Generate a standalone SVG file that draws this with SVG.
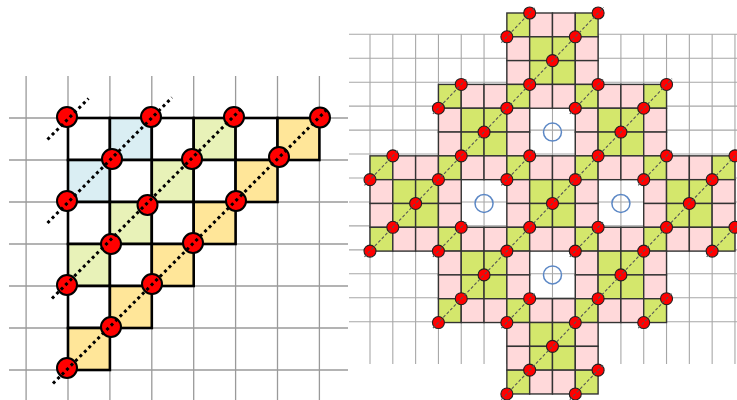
<svg xmlns="http://www.w3.org/2000/svg" width="737" height="400" viewBox="0 0 737 400">
<style>
.gl{stroke:#9a9a9a;stroke-width:1.3;fill:none}
.gr{stroke:#a8a8a8;stroke-width:1.1;fill:none}
.lc{stroke:#000;stroke-width:2.6}
.w{fill:#fff}.b{fill:#DAEEF3}.lg{fill:#E8F2B8}.y{fill:#FFE699}
.rc rect{stroke:#333;stroke-width:1.4}
.g{fill:#D4E76C}.p{fill:#FFD9DA}
.red1{fill:#FF0000;stroke:#000;stroke-width:2}
.red2{fill:#FF0000;stroke:#222;stroke-width:1.1}
.blue{fill:none;stroke:#5B87C5;stroke-width:1.5}
.dot{stroke:#000;stroke-width:3;stroke-dasharray:3 3.3;fill:none}
.dash{stroke:#555;stroke-width:1.1;stroke-dasharray:3 2;fill:none}
</style>
<rect width="737" height="400" fill="#fff"/>
<g id="left-panel">
<g id="left-grid" class="gl">
<path d="M26.1 76V400M68 76V400M109.9 76V400M151.8 76V400M193.7 76V400M235.6 76V400M277.5 76V400M319.4 76V400"/>
<path d="M9 118H348M9 160H348M9 202H348M9 244H348M9 286H348M9 328H348M9 370H348"/>
</g>
<g id="left-cells" class="lc">
<rect class="w" x="68" y="118" width="41.9" height="42"/>
<rect class="b" x="109.9" y="118" width="41.9" height="42"/>
<rect class="w" x="151.8" y="118" width="41.9" height="42"/>
<rect class="lg" x="193.7" y="118" width="41.9" height="42"/>
<rect class="w" x="235.6" y="118" width="41.9" height="42"/>
<rect class="y" x="277.5" y="118" width="41.9" height="42"/>
<rect class="b" x="68" y="160" width="41.9" height="42"/>
<rect class="w" x="109.9" y="160" width="41.9" height="42"/>
<rect class="lg" x="151.8" y="160" width="41.9" height="42"/>
<rect class="w" x="193.7" y="160" width="41.9" height="42"/>
<rect class="y" x="235.6" y="160" width="41.9" height="42"/>
<rect class="w" x="68" y="202" width="41.9" height="42"/>
<rect class="lg" x="109.9" y="202" width="41.9" height="42"/>
<rect class="w" x="151.8" y="202" width="41.9" height="42"/>
<rect class="y" x="193.7" y="202" width="41.9" height="42"/>
<rect class="lg" x="68" y="244" width="41.9" height="42"/>
<rect class="w" x="109.9" y="244" width="41.9" height="42"/>
<rect class="y" x="151.8" y="244" width="41.9" height="42"/>
<rect class="w" x="68" y="286" width="41.9" height="42"/>
<rect class="y" x="109.9" y="286" width="41.9" height="42"/>
<rect class="y" x="68" y="328" width="41.9" height="42"/>
</g>
<g id="left-dots" class="red1">
<circle cx="67" cy="117" r="10"/><circle cx="151" cy="117" r="10"/><circle cx="234" cy="117" r="10"/><circle cx="320" cy="117.5" r="10"/>
<circle cx="112" cy="159" r="10"/><circle cx="192" cy="159" r="10"/><circle cx="279" cy="157" r="10"/>
<circle cx="67" cy="201" r="10"/><circle cx="147.5" cy="205" r="10"/><circle cx="236" cy="201" r="10"/>
<circle cx="111" cy="244" r="10"/><circle cx="193" cy="243" r="10"/>
<circle cx="67" cy="285" r="10"/><circle cx="152" cy="284" r="10"/>
<circle cx="111" cy="327" r="10"/><circle cx="67" cy="368" r="10"/>
</g>
<g id="left-lines" class="dot">
<path d="M47.5 139.5L88.5 98.5"/>
<path d="M47.5 223L172 97.5"/>
<path d="M52 298.5L242 108"/>
<path d="M53 383.5L328 108.5"/>
</g>
</g>
<g id="right-panel">
<g id="right-grid" class="gr">
<path d="M370 34.3V364M392.81 34.3V364M415.62 34.3V364M438.43 34.3V364M461.24 34.3V364M484.05 34.3V364M506.86 34.3V364M529.67 34.3V364M552.48 34.3V364M575.29 34.3V364M598.1 34.3V364M620.91 34.3V364M643.72 34.3V364M666.53 34.3V364M689.34 34.3V364M712.15 34.3V364M734.96 34.3V364"/>
<path d="M349 34.3H737M349 58.25H737M349 82.2H737M349 106.15H737M349 130.1H737M349 154.05H737M349 178H737M349 201.95H737M349 225.9H737M349 249.85H737M349 273.8H737M349 297.75H737M349 321.7H737"/>
</g>
<g id="right-cells" class="rc">
<rect class="g" x="506.86" y="13" width="22.81" height="23.81"/><rect class="p" x="529.67" y="13" width="22.81" height="23.81"/><rect class="p" x="552.48" y="13" width="22.81" height="23.81"/><rect class="g" x="575.29" y="13" width="22.81" height="23.81"/>
<rect class="p" x="506.86" y="36.81" width="22.81" height="23.81"/><rect class="g" x="529.67" y="36.81" width="22.81" height="23.81"/><rect class="g" x="552.48" y="36.81" width="22.81" height="23.81"/><rect class="p" x="575.29" y="36.81" width="22.81" height="23.81"/>
<rect class="p" x="506.86" y="60.62" width="22.81" height="23.81"/><rect class="g" x="529.67" y="60.62" width="22.81" height="23.81"/><rect class="g" x="552.48" y="60.62" width="22.81" height="23.81"/><rect class="p" x="575.29" y="60.62" width="22.81" height="23.81"/>
<rect class="g" x="438.43" y="84.43" width="22.81" height="23.81"/><rect class="p" x="461.24" y="84.43" width="22.81" height="23.81"/><rect class="p" x="484.05" y="84.43" width="22.81" height="23.81"/><rect class="g" x="506.86" y="84.43" width="22.81" height="23.81"/><rect class="p" x="529.67" y="84.43" width="22.81" height="23.81"/><rect class="p" x="552.48" y="84.43" width="22.81" height="23.81"/><rect class="g" x="575.29" y="84.43" width="22.81" height="23.81"/><rect class="p" x="598.1" y="84.43" width="22.81" height="23.81"/><rect class="p" x="620.91" y="84.43" width="22.81" height="23.81"/><rect class="g" x="643.72" y="84.43" width="22.81" height="23.81"/>
<rect class="p" x="438.43" y="108.24" width="22.81" height="23.81"/><rect class="g" x="461.24" y="108.24" width="22.81" height="23.81"/><rect class="g" x="484.05" y="108.24" width="22.81" height="23.81"/><rect class="p" x="506.86" y="108.24" width="22.81" height="23.81"/><rect class="p" x="575.29" y="108.24" width="22.81" height="23.81"/><rect class="g" x="598.1" y="108.24" width="22.81" height="23.81"/><rect class="g" x="620.91" y="108.24" width="22.81" height="23.81"/><rect class="p" x="643.72" y="108.24" width="22.81" height="23.81"/>
<rect class="p" x="438.43" y="132.05" width="22.81" height="23.81"/><rect class="g" x="461.24" y="132.05" width="22.81" height="23.81"/><rect class="g" x="484.05" y="132.05" width="22.81" height="23.81"/><rect class="p" x="506.86" y="132.05" width="22.81" height="23.81"/><rect class="p" x="575.29" y="132.05" width="22.81" height="23.81"/><rect class="g" x="598.1" y="132.05" width="22.81" height="23.81"/><rect class="g" x="620.91" y="132.05" width="22.81" height="23.81"/><rect class="p" x="643.72" y="132.05" width="22.81" height="23.81"/>
<rect class="g" x="370" y="155.86" width="22.81" height="23.81"/><rect class="p" x="392.81" y="155.86" width="22.81" height="23.81"/><rect class="p" x="415.62" y="155.86" width="22.81" height="23.81"/><rect class="g" x="438.43" y="155.86" width="22.81" height="23.81"/><rect class="p" x="461.24" y="155.86" width="22.81" height="23.81"/><rect class="p" x="484.05" y="155.86" width="22.81" height="23.81"/><rect class="g" x="506.86" y="155.86" width="22.81" height="23.81"/><rect class="p" x="529.67" y="155.86" width="22.81" height="23.81"/><rect class="p" x="552.48" y="155.86" width="22.81" height="23.81"/><rect class="g" x="575.29" y="155.86" width="22.81" height="23.81"/><rect class="p" x="598.1" y="155.86" width="22.81" height="23.81"/><rect class="p" x="620.91" y="155.86" width="22.81" height="23.81"/><rect class="g" x="643.72" y="155.86" width="22.81" height="23.81"/><rect class="p" x="666.53" y="155.86" width="22.81" height="23.81"/><rect class="p" x="689.34" y="155.86" width="22.81" height="23.81"/><rect class="g" x="712.15" y="155.86" width="22.81" height="23.81"/>
<rect class="p" x="370" y="179.67" width="22.81" height="23.81"/><rect class="g" x="392.81" y="179.67" width="22.81" height="23.81"/><rect class="g" x="415.62" y="179.67" width="22.81" height="23.81"/><rect class="p" x="438.43" y="179.67" width="22.81" height="23.81"/><rect class="p" x="506.86" y="179.67" width="22.81" height="23.81"/><rect class="g" x="529.67" y="179.67" width="22.81" height="23.81"/><rect class="g" x="552.48" y="179.67" width="22.81" height="23.81"/><rect class="p" x="575.29" y="179.67" width="22.81" height="23.81"/><rect class="p" x="643.72" y="179.67" width="22.81" height="23.81"/><rect class="g" x="666.53" y="179.67" width="22.81" height="23.81"/><rect class="g" x="689.34" y="179.67" width="22.81" height="23.81"/><rect class="p" x="712.15" y="179.67" width="22.81" height="23.81"/>
<rect class="p" x="370" y="203.48" width="22.81" height="23.81"/><rect class="g" x="392.81" y="203.48" width="22.81" height="23.81"/><rect class="g" x="415.62" y="203.48" width="22.81" height="23.81"/><rect class="p" x="438.43" y="203.48" width="22.81" height="23.81"/><rect class="p" x="506.86" y="203.48" width="22.81" height="23.81"/><rect class="g" x="529.67" y="203.48" width="22.81" height="23.81"/><rect class="g" x="552.48" y="203.48" width="22.81" height="23.81"/><rect class="p" x="575.29" y="203.48" width="22.81" height="23.81"/><rect class="p" x="643.72" y="203.48" width="22.81" height="23.81"/><rect class="g" x="666.53" y="203.48" width="22.81" height="23.81"/><rect class="g" x="689.34" y="203.48" width="22.81" height="23.81"/><rect class="p" x="712.15" y="203.48" width="22.81" height="23.81"/>
<rect class="g" x="370" y="227.29" width="22.81" height="23.81"/><rect class="p" x="392.81" y="227.29" width="22.81" height="23.81"/><rect class="p" x="415.62" y="227.29" width="22.81" height="23.81"/><rect class="g" x="438.43" y="227.29" width="22.81" height="23.81"/><rect class="p" x="461.24" y="227.29" width="22.81" height="23.81"/><rect class="p" x="484.05" y="227.29" width="22.81" height="23.81"/><rect class="g" x="506.86" y="227.29" width="22.81" height="23.81"/><rect class="p" x="529.67" y="227.29" width="22.81" height="23.81"/><rect class="p" x="552.48" y="227.29" width="22.81" height="23.81"/><rect class="g" x="575.29" y="227.29" width="22.81" height="23.81"/><rect class="p" x="598.1" y="227.29" width="22.81" height="23.81"/><rect class="p" x="620.91" y="227.29" width="22.81" height="23.81"/><rect class="g" x="643.72" y="227.29" width="22.81" height="23.81"/><rect class="p" x="666.53" y="227.29" width="22.81" height="23.81"/><rect class="p" x="689.34" y="227.29" width="22.81" height="23.81"/><rect class="g" x="712.15" y="227.29" width="22.81" height="23.81"/>
<rect class="p" x="438.43" y="251.1" width="22.81" height="23.81"/><rect class="g" x="461.24" y="251.1" width="22.81" height="23.81"/><rect class="g" x="484.05" y="251.1" width="22.81" height="23.81"/><rect class="p" x="506.86" y="251.1" width="22.81" height="23.81"/><rect class="p" x="575.29" y="251.1" width="22.81" height="23.81"/><rect class="g" x="598.1" y="251.1" width="22.81" height="23.81"/><rect class="g" x="620.91" y="251.1" width="22.81" height="23.81"/><rect class="p" x="643.72" y="251.1" width="22.81" height="23.81"/>
<rect class="p" x="438.43" y="274.91" width="22.81" height="23.81"/><rect class="g" x="461.24" y="274.91" width="22.81" height="23.81"/><rect class="g" x="484.05" y="274.91" width="22.81" height="23.81"/><rect class="p" x="506.86" y="274.91" width="22.81" height="23.81"/><rect class="p" x="575.29" y="274.91" width="22.81" height="23.81"/><rect class="g" x="598.1" y="274.91" width="22.81" height="23.81"/><rect class="g" x="620.91" y="274.91" width="22.81" height="23.81"/><rect class="p" x="643.72" y="274.91" width="22.81" height="23.81"/>
<rect class="g" x="438.43" y="298.72" width="22.81" height="23.81"/><rect class="p" x="461.24" y="298.72" width="22.81" height="23.81"/><rect class="p" x="484.05" y="298.72" width="22.81" height="23.81"/><rect class="g" x="506.86" y="298.72" width="22.81" height="23.81"/><rect class="p" x="529.67" y="298.72" width="22.81" height="23.81"/><rect class="p" x="552.48" y="298.72" width="22.81" height="23.81"/><rect class="g" x="575.29" y="298.72" width="22.81" height="23.81"/><rect class="p" x="598.1" y="298.72" width="22.81" height="23.81"/><rect class="p" x="620.91" y="298.72" width="22.81" height="23.81"/><rect class="g" x="643.72" y="298.72" width="22.81" height="23.81"/>
<rect class="p" x="506.86" y="322.53" width="22.81" height="23.81"/><rect class="g" x="529.67" y="322.53" width="22.81" height="23.81"/><rect class="g" x="552.48" y="322.53" width="22.81" height="23.81"/><rect class="p" x="575.29" y="322.53" width="22.81" height="23.81"/>
<rect class="p" x="506.86" y="346.34" width="22.81" height="23.81"/><rect class="g" x="529.67" y="346.34" width="22.81" height="23.81"/><rect class="g" x="552.48" y="346.34" width="22.81" height="23.81"/><rect class="p" x="575.29" y="346.34" width="22.81" height="23.81"/>
<rect class="g" x="506.86" y="370.15" width="22.81" height="23.81"/><rect class="p" x="529.67" y="370.15" width="22.81" height="23.81"/><rect class="p" x="552.48" y="370.15" width="22.81" height="23.81"/><rect class="g" x="575.29" y="370.15" width="22.81" height="23.81"/>
</g>
<g id="right-dots" class="red2">
<circle cx="529.67" cy="13" r="6"/><circle cx="598.1" cy="13" r="6"/>
<circle cx="506.86" cy="36.81" r="6"/><circle cx="575.29" cy="36.81" r="6"/>
<circle cx="552.48" cy="60.62" r="6"/>
<circle cx="461.24" cy="84.43" r="6"/><circle cx="529.67" cy="84.43" r="6"/><circle cx="598.1" cy="84.43" r="6"/><circle cx="666.53" cy="84.43" r="6"/>
<circle cx="438.43" cy="108.24" r="6"/><circle cx="506.86" cy="108.24" r="6"/><circle cx="575.29" cy="108.24" r="6"/><circle cx="643.72" cy="108.24" r="6"/>
<circle cx="484.05" cy="132.05" r="6"/><circle cx="620.91" cy="132.05" r="6"/>
<circle cx="392.81" cy="155.86" r="6"/><circle cx="461.24" cy="155.86" r="6"/><circle cx="529.67" cy="155.86" r="6"/><circle cx="598.1" cy="155.86" r="6"/><circle cx="666.53" cy="155.86" r="6"/><circle cx="734.96" cy="155.86" r="6"/>
<circle cx="370" cy="179.67" r="6"/><circle cx="438.43" cy="179.67" r="6"/><circle cx="506.86" cy="179.67" r="6"/><circle cx="575.29" cy="179.67" r="6"/><circle cx="643.72" cy="179.67" r="6"/><circle cx="712.15" cy="179.67" r="6"/>
<circle cx="415.62" cy="203.48" r="6"/><circle cx="552.48" cy="203.48" r="6"/><circle cx="689.34" cy="203.48" r="6"/>
<circle cx="392.81" cy="227.29" r="6"/><circle cx="461.24" cy="227.29" r="6"/><circle cx="529.67" cy="227.29" r="6"/><circle cx="598.1" cy="227.29" r="6"/><circle cx="666.53" cy="227.29" r="6"/><circle cx="734.96" cy="227.29" r="6"/>
<circle cx="370" cy="251.1" r="6"/><circle cx="438.43" cy="251.1" r="6"/><circle cx="506.86" cy="251.1" r="6"/><circle cx="575.29" cy="251.1" r="6"/><circle cx="643.72" cy="251.1" r="6"/><circle cx="712.15" cy="251.1" r="6"/>
<circle cx="484.05" cy="274.91" r="6"/><circle cx="620.91" cy="274.91" r="6"/>
<circle cx="461.24" cy="298.72" r="6"/><circle cx="529.67" cy="298.72" r="6"/><circle cx="598.1" cy="298.72" r="6"/><circle cx="666.53" cy="298.72" r="6"/>
<circle cx="438.43" cy="322.53" r="6"/><circle cx="506.86" cy="322.53" r="6"/><circle cx="575.29" cy="322.53" r="6"/><circle cx="643.72" cy="322.53" r="6"/>
<circle cx="552.48" cy="346.34" r="6"/>
<circle cx="529.67" cy="370.15" r="6"/><circle cx="598.1" cy="370.15" r="6"/>
<circle cx="506.86" cy="393.96" r="6"/><circle cx="575.29" cy="393.96" r="6"/>
</g>
<g id="hole-rings" class="blue">
<circle cx="552.48" cy="132.05" r="9"/>
<circle cx="484.05" cy="203.48" r="9"/>
<circle cx="620.91" cy="203.48" r="9"/>
<circle cx="552.48" cy="274.91" r="9"/>
</g>
<g id="right-lines" class="dash">
<path d="M364.5 185.37L398.31 150.16"/>
<path d="M432.93 113.94L466.74 78.73"/>
<path d="M501.36 42.51L535.17 7.3"/>
<path d="M364.5 256.8L603.6 7.3"/>
<path d="M432.93 256.8L466.74 221.59"/>
<path d="M501.36 185.37L535.17 150.16"/>
<path d="M569.79 113.94L603.6 78.73"/>
<path d="M432.93 328.23L672.03 78.73"/>
<path d="M501.36 328.23L535.17 293.02"/>
<path d="M569.79 256.8L603.6 221.59"/>
<path d="M638.22 185.37L672.03 150.16"/>
<path d="M501.36 399.66L740.46 150.16"/>
<path d="M569.79 399.66L603.6 364.45"/>
<path d="M638.22 328.23L672.03 293.02"/>
<path d="M706.65 256.8L740.46 221.59"/>
</g>
</g>
</svg>
